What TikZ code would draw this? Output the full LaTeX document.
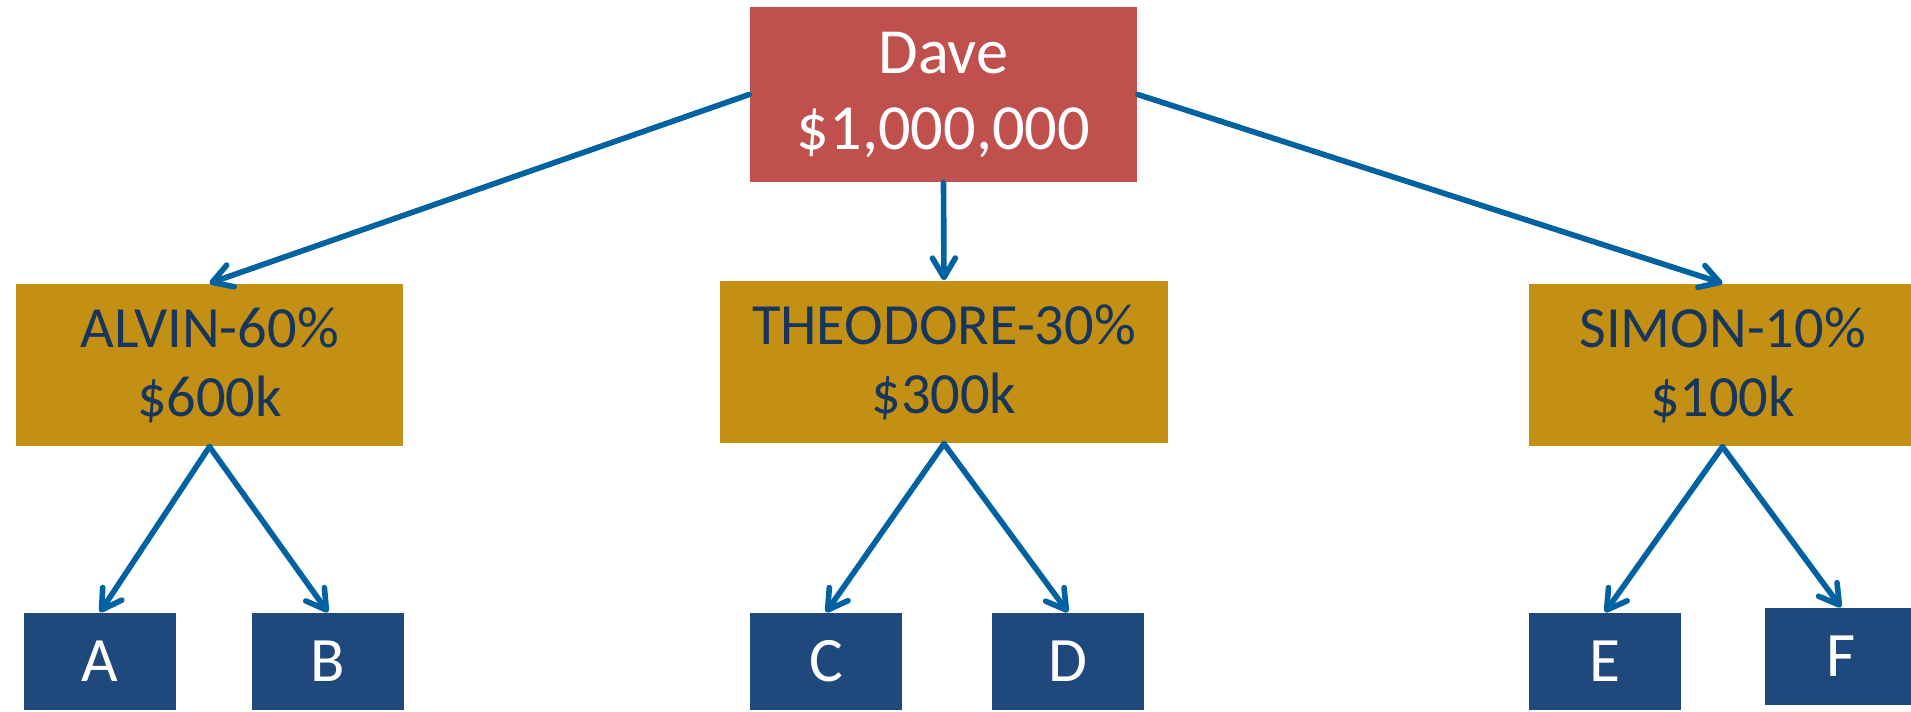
\documentclass[tikz,border=0pt]{standalone}
\usepackage{fontspec}
\setmainfont{Carlito}
\usetikzlibrary{arrows.meta}
\definecolor{rootred}{HTML}{C0504D}
\definecolor{heirgold}{HTML}{C49014}
\definecolor{heirtext}{HTML}{17365D}
\definecolor{leafblue}{HTML}{1F497D}
\definecolor{linkblue}{HTML}{0062A0}

\begin{document}
\begin{tikzpicture}[x=0.01cm,y=-0.01cm,
  rootbox/.style={fill=rootred,text=white,inner sep=0pt,minimum width=3.87cm,minimum height=1.75cm,
    align=center,font=\fontsize{18.3}{21.6}\selectfont},
  heirbox/.style={fill=heirgold,text=heirtext,inner sep=0pt,minimum height=1.62cm,
    align=center,font=\fontsize{16.6}{19.6}\selectfont},
  leafbox/.style={fill=leafblue,text=white,inner sep=0pt,minimum width=1.52cm,minimum height=0.97cm,
    font=\fontsize{18}{21.6}\selectfont},
  link/.style={draw=linkblue,line width=1.6pt,line cap=round,
    -{Straight Barb[length=5.5pt,width=6.5pt,line cap=round,line join=round]}}]
  \path[use as bounding box,clip] (0,0) rectangle (1911,711);
  \node[rootbox] (dave) at (943.5,94.5) {Dave\\\$1,000,000};
  \node[heirbox,minimum width=3.87cm] (alvin) at (209.5,365) {ALVIN-60\%\\\$600k};
  \node[heirbox,minimum width=4.48cm] (theodore) at (944,362) {THEODORE-30\%\\\$300k};
  \node[heirbox,minimum width=3.87cm] (simon) at (1722.5,365) {SIMON-10\%\\\$100k};
  \node[leafbox] (a) at (100,661.5) {A};
  \node[leafbox] (b) at (328,661.5) {B};
  \node[leafbox] (c) at (826,661.5) {C};
  \node[leafbox] (d) at (1068,661.5) {D};
  \node[leafbox] (e) at (1605,661.5) {E};
  \node[leafbox] (f) at (1841,656.5) {F};
  \draw[link] (dave.west) -- (alvin.north);
  \draw[link] (dave.south) -- (theodore.north);
  \draw[link] (dave.east) -- (simon.north);
  \draw[link] (alvin.south) -- (a.north);
  \draw[link] (alvin.south) -- (b.north);
  \draw[link] (theodore.south) -- (c.north);
  \draw[link] (theodore.south) -- (d.north);
  \draw[link] (simon.south) -- (e.north);
  \draw[link] (simon.south) -- (f.north);
\end{tikzpicture}
\end{document}
